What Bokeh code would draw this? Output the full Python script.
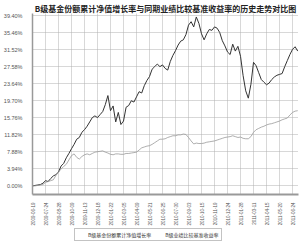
import math
from bokeh.plotting import figure
from bokeh.layouts import column
from bokeh.models import Range1d, FixedTicker, Legend, LegendItem, ColumnDataSource
from bokeh.embed import file_html
from bokeh.resources import INLINE

title_text = "B级基金份额累计净值增长率与同期业绩比较基准收益率的历史走势对比图"
series_names = ["B级基金份额累计净值增长率", "B级业绩比较基准收益率"]

nav_growth = [
    0.0, 0.1, 0.2, 0.3, 0.6, 1.2, 1.0, 1.7, 2.3, 2.6,
    3.2, 4.6, 5.2, 6.5, 7.5, 8.6, 9.6, 10.8, 11.2, 12.4,
    13.0, 13.8, 14.8, 15.8, 16.2, 15.8, 16.5, 17.2, 18.8, 20.9,
    17.4, 18.5, 14.8, 17.0, 14.2, 15.0, 18.2, 18.6, 19.7, 19.4,
    20.6, 21.8, 21.5, 23.2, 24.4, 25.3, 27.0, 27.6, 28.2, 27.6,
    28.0, 27.2, 26.8, 28.8, 30.2, 31.3, 32.6, 33.5, 33.8, 35.0,
    37.2, 38.0, 36.8, 39.1, 37.6, 35.2, 33.8, 35.2, 36.2, 36.0,
    36.8, 36.5, 35.5, 33.6, 32.4, 31.0, 30.4, 32.8, 31.2, 32.3,
    30.0, 25.5, 22.0, 20.3, 23.5, 28.6, 27.8, 26.2, 24.6, 24.0,
    23.4, 23.8, 24.6, 25.2, 25.6, 25.8, 26.0, 27.6, 29.0, 30.4,
    31.6, 32.2, 31.2,
]

benchmark = [
    0.0, 0.0, 0.1, 0.2, 0.3, 0.8, 1.0, 1.2, 1.4, 2.4,
    3.2, 3.9, 4.5, 5.0, 6.0, 7.0, 7.4, 6.6, 6.2, 6.8,
    7.2, 7.4, 7.2, 7.5, 7.8, 7.9, 8.0, 8.1, 7.8, 7.6,
    7.3, 7.2, 7.4, 7.4, 7.3, 7.3, 7.5, 7.5, 7.6, 7.7,
    7.8, 8.3, 8.8, 9.0, 9.2, 9.3, 9.6, 10.0, 10.4, 10.8,
    10.8, 10.9, 11.2, 11.4, 11.6, 11.6, 11.8, 11.8, 12.0, 11.9,
    11.2, 10.4, 9.7, 9.9, 9.8, 9.8, 9.9, 10.1, 10.2, 10.3,
    10.4, 10.6, 10.8, 11.0, 11.2, 11.3, 11.4, 11.6, 11.4, 11.2,
    11.3, 11.0, 10.9, 10.9, 11.4, 12.4, 13.0, 13.3, 13.6, 13.8,
    14.1, 14.3, 14.4, 14.6, 14.8, 15.0, 15.3, 15.5, 15.7, 16.4,
    17.0, 17.3, 17.4,
]

x_tick_labels = [
    "2009-06-19", "2009-07-24", "2009-08-28", "2009-10-09", "2009-11-13",
    "2009-12-18", "2010-01-22", "2010-03-05", "2010-04-09", "2010-05-21",
    "2010-06-25", "2010-07-30", "2010-09-03", "2010-10-15", "2010-11-19",
    "2010-12-24", "2011-01-28", "2011-03-11", "2011-04-15", "2011-05-20",
    "2011-06-24",
]
x_tick_positions = [0, 5, 10, 15, 20, 25, 30, 35, 40, 45, 50, 55, 60, 65, 70, 75, 80, 85, 90, 95, 100]

y_ticks = [0.0, 3.94, 7.88, 11.82, 15.76, 19.70, 23.64, 27.58, 31.52, 35.46, 39.40]
y_tick_labels = ["0.00%", "3.94%", "7.88%", "11.82%", "15.76%", "19.70%",
                 "23.64%", "27.58%", "31.52%", "35.46%", "39.40%"]

nav_color = "#333333"
bm_color = "#999999"

idx = list(range(len(nav_growth)))
src = ColumnDataSource(dict(x=idx, nav=nav_growth, bm=benchmark))

p = figure(width=300, height=228, output_backend="svg", toolbar_location=None,
           x_range=Range1d(0, 102.3), y_range=Range1d(-2.0, 39.9),
           min_border_left=29, min_border_right=2, min_border_top=0,
           min_border_bottom=0, background_fill_color="white",
           border_fill_color="white", outline_line_color=None)

p.title.text = title_text
p.title.text_font = "Noto Sans CJK SC"
p.title.text_font_size = "8px"
p.title.text_font_style = "bold"
p.title.text_color = "#222222"
p.title.align = "center"
p.title.standoff = 0

p.line("x", "nav", source=src, line_color=nav_color, line_width=1.0)
p.line("x", "bm", source=src, line_color=bm_color, line_width=0.8)

p.xaxis.ticker = FixedTicker(ticks=x_tick_positions)
p.xaxis.major_label_overrides = {t: l for t, l in zip(x_tick_positions, x_tick_labels)}
p.xaxis.major_label_orientation = math.pi / 2
p.xaxis.major_label_text_font_size = "4.5px"
p.xaxis.major_label_text_font = "Liberation Sans"
p.xaxis.major_label_text_color = "#555555"
p.xaxis.major_label_standoff = 2
p.xaxis.major_tick_line_color = None
p.xaxis.minor_tick_line_color = None
p.xaxis.axis_line_color = "#999999"
p.xaxis.axis_line_width = 2

p.yaxis.ticker = FixedTicker(ticks=y_ticks)
p.yaxis.major_label_overrides = {t: l for t, l in zip(y_ticks, y_tick_labels)}
p.yaxis.major_label_text_font_size = "5.5px"
p.yaxis.major_label_text_font = "Liberation Sans"
p.yaxis.major_label_text_color = "#555555"
p.yaxis.major_label_standoff = 4
p.yaxis.major_tick_line_color = None
p.yaxis.minor_tick_line_color = None
p.yaxis.axis_line_color = "#999999"
p.yaxis.axis_line_width = 1.5

p.xgrid.ticker = FixedTicker(ticks=x_tick_positions)
p.xgrid.grid_line_color = "#b0b0b0"
p.xgrid.grid_line_dash = "1 1"
p.ygrid.ticker = FixedTicker(ticks=y_ticks)
p.ygrid.grid_line_color = "#b0b0b0"
p.ygrid.grid_line_dash = "1 1"

# legend strip below the chart
lf = figure(width=300, height=14, output_backend="svg", toolbar_location=None,
            x_axis_type=None, y_axis_type=None, min_border=0,
            x_range=Range1d(0, 1), y_range=Range1d(0, 1),
            outline_line_color=None, background_fill_color="white",
            border_fill_color="white")
lf.xgrid.visible = False
lf.ygrid.visible = False
d1 = lf.line(x=[], y=[], line_color=nav_color, line_width=1.0)
d2 = lf.line(x=[], y=[], line_color=bm_color, line_width=0.8)
legend = Legend(items=[LegendItem(label=series_names[0], renderers=[d1]),
                       LegendItem(label=series_names[1], renderers=[d2])],
                orientation="horizontal", location=(42, 1))
legend.label_text_font = "Noto Sans CJK SC"
legend.label_text_font_size = "5px"
legend.label_text_color = "#333333"
legend.glyph_width = 10
legend.glyph_height = 6
legend.label_height = 6
legend.label_standoff = 1
legend.spacing = 3
legend.padding = 2
legend.margin = 0
legend.border_line_color = "#888888"
legend.border_line_width = 1
lf.add_layout(legend, "center")

layout = column(p, lf, spacing=0)
open("out.html", "w").write(file_html(layout, INLINE))
